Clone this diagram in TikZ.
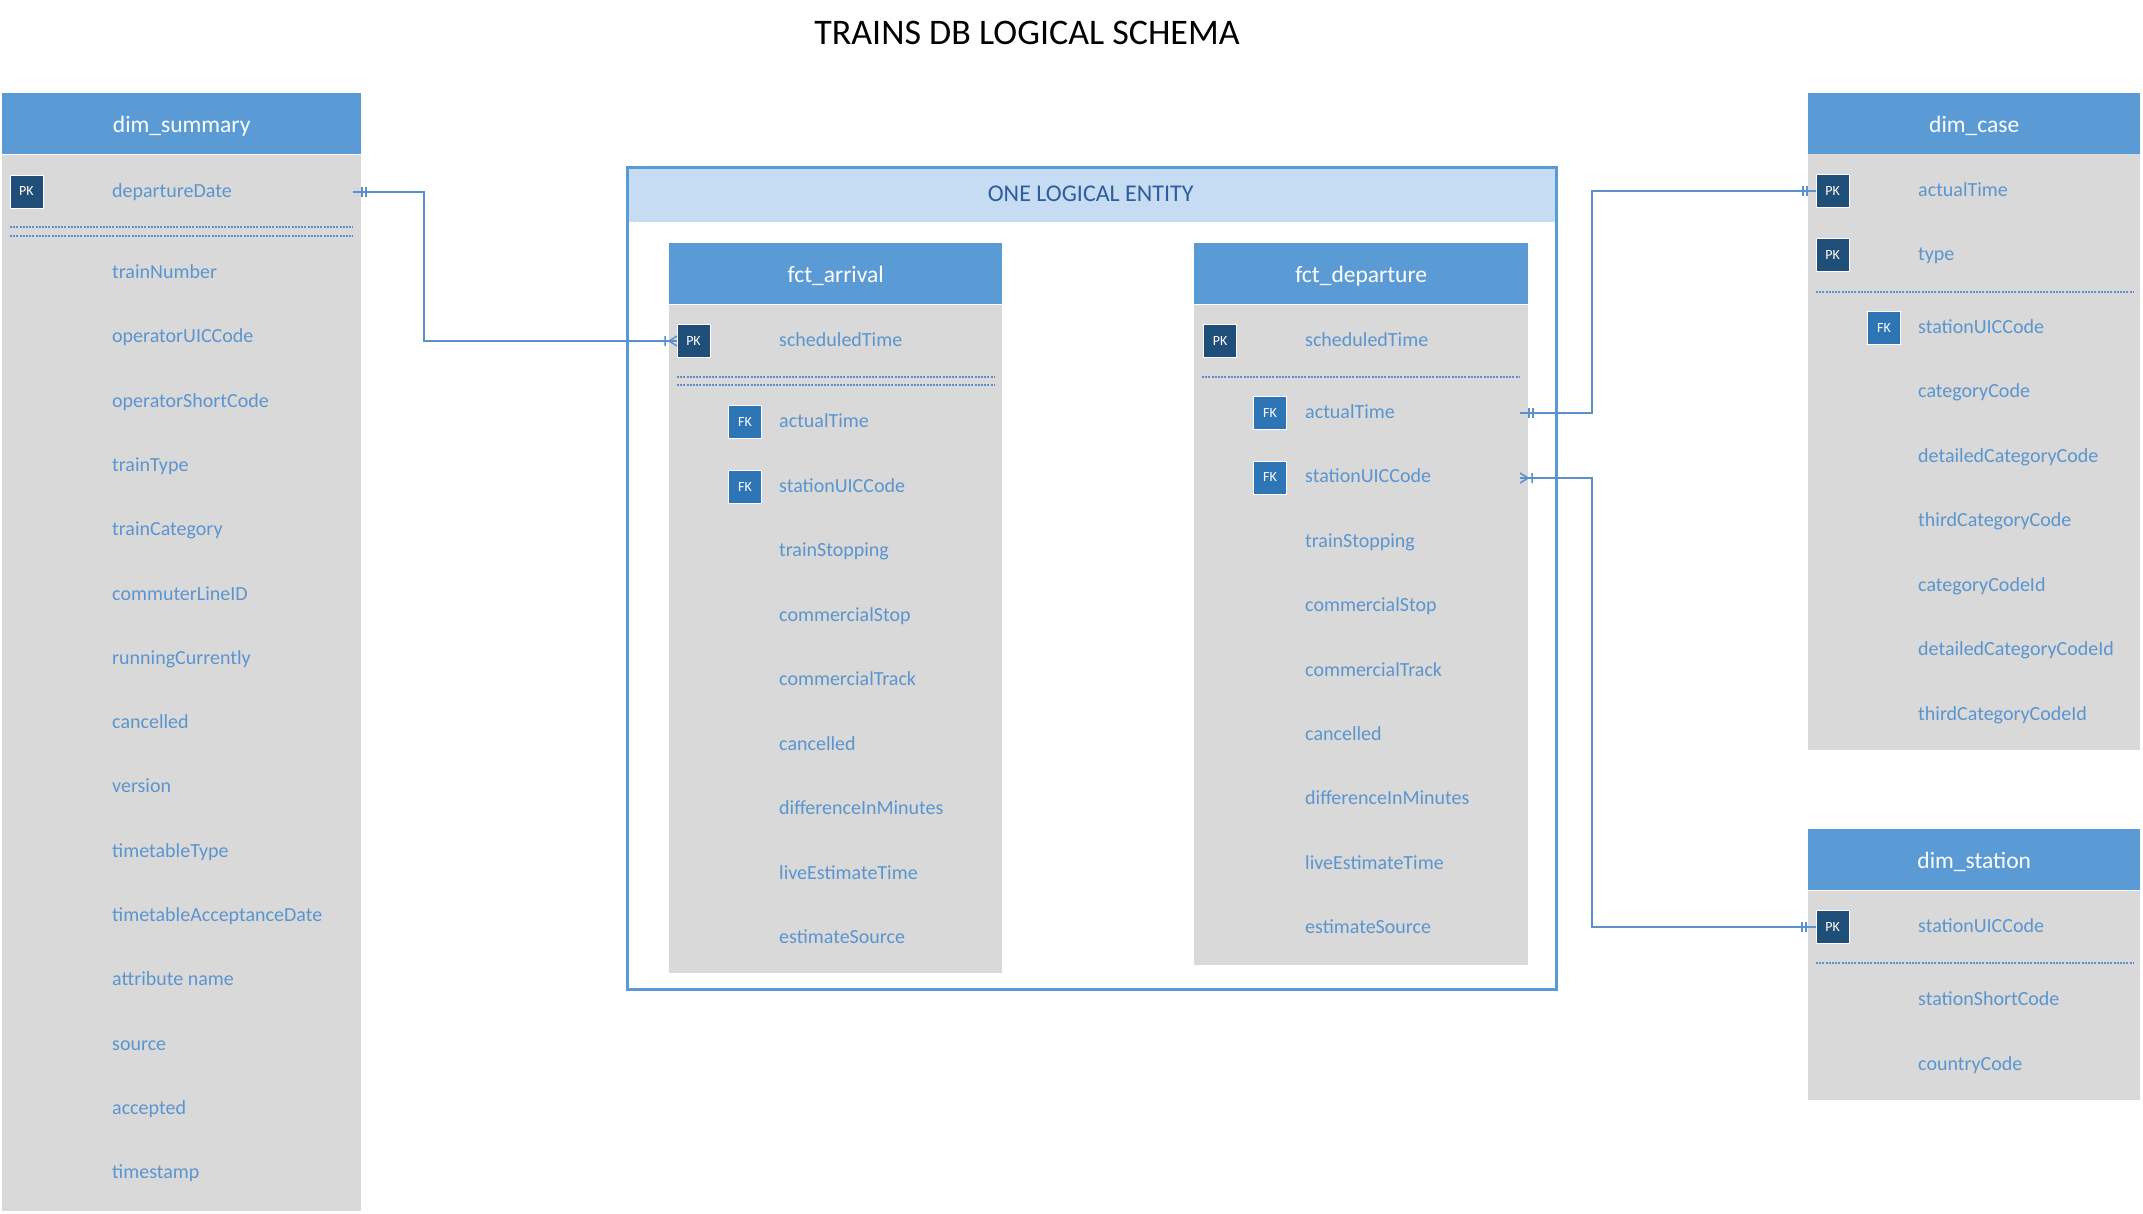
\documentclass[tikz,border=0pt]{standalone}
\usepackage{fontspec}
\setmainfont{Carlito}
\usetikzlibrary{positioning}

\definecolor{hdrblue}{HTML}{5B9BD5}
\definecolor{bodygray}{HTML}{D9D9D9}
\definecolor{attrblue}{HTML}{5B95CF}
\definecolor{pkblue}{HTML}{1F4E79}
\definecolor{fkblue}{HTML}{2E75B6}
\definecolor{bandblue}{HTML}{C6DCF2}
\definecolor{entblue}{HTML}{2F5C9E}
\definecolor{linkblue}{HTML}{5A90CC}

\tikzset{
  tblhead/.style={fill=hdrblue, text=white, inner sep=0pt, anchor=north west,
    font=\fontsize{23.5}{26}\selectfont, text height=18pt, text depth=1pt},
  tblbody/.style={fill=bodygray, inner sep=0pt, anchor=north west},
  attr/.style={anchor=west, inner sep=0pt, text=attrblue,
    font=\fontsize{20}{23}\selectfont, text height=14pt, text depth=3pt},
  keybox/.style={minimum size=33pt, inner sep=0pt, draw=white, line width=0.8pt,
    text=white, font=\fontsize{14}{16}\selectfont},
  pkbadge/.style={keybox, fill=pkblue},
  fkbadge/.style={keybox, fill=fkblue},
  sepline/.style={draw=linkblue, line width=1.3pt, dash pattern=on 2pt off 1.2pt},
  link/.style={draw=linkblue, line width=1.5pt},
  onemark/.pic={\draw[link] (0,-5) -- (0,5) (4,-5) -- (4,5);},
  manymark/.pic={\draw[link] (0,-5) -- (8,0) -- (0,5) (12,-5) -- (12,5);}
}

\begin{document}
\begin{tikzpicture}[x=1pt, y=-1pt]
    \useasboundingbox (0,0) rectangle (2143,1213);

    % --- タイトル ---
    \node[font=\fontsize{36}{40}\selectfont] (title) at (1027,33) {TRAINS DB LOGICAL SCHEMA};

    % --- 論理エンティティの枠 ---
    \node[fill=bandblue, text=entblue, inner sep=0pt, anchor=north west,
          minimum width=929pt, minimum height=56pt, text height=17pt, text depth=2pt,
          font=\fontsize{24}{27}\selectfont] (entBand) at (626,166) {ONE LOGICAL ENTITY};
    \node[draw=hdrblue, line width=3pt, inner sep=0pt, anchor=north west,
          minimum width=929pt, minimum height=822pt] (entity) at (626,166) {};

    % --- dim_summary ---
    \node[tblhead, minimum width=359pt, minimum height=61pt] (sumHead) at (2,93) {dim\_summary};
    \node[tblbody, minimum width=359pt, minimum height=1056pt] (sumBody) at (2,155) {};
    \node[pkbadge] (sumPK) at (26.5,191.5) {PK};
    \node[attr] (sumKey) at (112,192) {departureDate};
    \draw[sepline] (10,227) -- (353,227);
    \draw[sepline] (10,236) -- (353,236);
    \foreach \name [count=\i from 0] in {trainNumber, operatorUICCode, operatorShortCode,
        trainType, trainCategory, commuterLineID, runningCurrently, cancelled, version,
        timetableType, timetableAcceptanceDate, attribute name, source, accepted, timestamp} {
        \node[attr] (sumAttr\i) at (112,{273+64.3*\i}) {\name};
    }

    % --- fct_arrival ---
    \node[tblhead, minimum width=333pt, minimum height=61pt] (arrHead) at (669,243) {fct\_arrival};
    \node[tblbody, minimum width=333pt, minimum height=668pt] (arrBody) at (669,305) {};
    \node[pkbadge] (arrPK) at (693.5,341) {PK};
    \node[attr] (arrKey) at (779,341) {scheduledTime};
    \draw[sepline] (677,377) -- (994,377);
    \draw[sepline] (677,385) -- (994,385);
    \foreach \name [count=\i from 0] in {actualTime, stationUICCode} {
        \node[fkbadge] (arrFK\i) at (745,{422+64.5*\i}) {FK};
    }
    \foreach \name [count=\i from 0] in {actualTime, stationUICCode, trainStopping,
        commercialStop, commercialTrack, cancelled, differenceInMinutes,
        liveEstimateTime, estimateSource} {
        \node[attr] (arrAttr\i) at (779,{422+64.5*\i}) {\name};
    }

    % --- fct_departure ---
    \node[tblhead, minimum width=334pt, minimum height=61pt] (depHead) at (1194,243) {fct\_departure};
    \node[tblbody, minimum width=334pt, minimum height=660pt] (depBody) at (1194,305) {};
    \node[pkbadge] (depPK) at (1220,341) {PK};
    \node[attr] (depKey) at (1305,341) {scheduledTime};
    \draw[sepline] (1202,377) -- (1520,377);
    \foreach \name [count=\i from 0] in {actualTime, stationUICCode} {
        \node[fkbadge] (depFK\i) at (1270,{413+64.4*\i}) {FK};
    }
    \foreach \name [count=\i from 0] in {actualTime, stationUICCode, trainStopping,
        commercialStop, commercialTrack, cancelled, differenceInMinutes,
        liveEstimateTime, estimateSource} {
        \node[attr] (depAttr\i) at (1305,{413+64.4*\i}) {\name};
    }

    % --- dim_case ---
    \node[tblhead, minimum width=332pt, minimum height=61pt] (caseHead) at (1808,93) {dim\_case};
    \node[tblbody, minimum width=332pt, minimum height=596pt] (caseBody) at (1808,154) {};
    \node[pkbadge] (casePK) at (1832.5,191) {PK};
    \node[attr] (caseKey) at (1918,191) {actualTime};
    \node[pkbadge] (casePK2) at (1832.5,255) {PK};
    \node[attr] (caseKey2) at (1918,255) {type};
    \draw[sepline] (1816,292) -- (2133,292);
    \node[fkbadge] (caseFK) at (1884,328) {FK};
    \node[attr] (caseFKAttr) at (1918,328) {stationUICCode};
    \foreach \name [count=\i from 0] in {categoryCode, detailedCategoryCode,
        thirdCategoryCode, categoryCodeId, detailedCategoryCodeId, thirdCategoryCodeId} {
        \node[attr] (caseAttr\i) at (1918,{392+64.6*\i}) {\name};
    }

    % --- dim_station ---
    \node[tblhead, minimum width=332pt, minimum height=61pt] (staHead) at (1808,829) {dim\_station};
    \node[tblbody, minimum width=332pt, minimum height=209pt] (staBody) at (1808,891) {};
    \node[pkbadge] (staPK) at (1832.5,927) {PK};
    \node[attr] (staKey) at (1918,927) {stationUICCode};
    \draw[sepline] (1816,963) -- (2133,963);
    \node[attr] (staAttr0) at (1918,1000) {stationShortCode};
    \node[attr] (staAttr1) at (1918,1065) {countryCode};

    % --- リレーション ---
    \coordinate (sumLink) at (353,192);
    \coordinate (depActLink) at (1520,413);
    \coordinate (depStaLink) at (1520,478);
    \draw[link] (sumLink) -- (424,192) |- (arrPK.west);
    \draw[link] (depActLink) -- (1592,413) |- (casePK.west);
    \draw[link] (depStaLink) -- (1592,478) |- (staPK.west);
    \pic at (362,192) {onemark};
    \pic[xscale=-1] at (677,341) {manymark};
    \pic at (1529,413) {onemark};
    \pic at (1803,191) {onemark};
    \pic at (1520,478) {manymark};
    \pic at (1802,927) {onemark};

\end{tikzpicture}
\end{document}
